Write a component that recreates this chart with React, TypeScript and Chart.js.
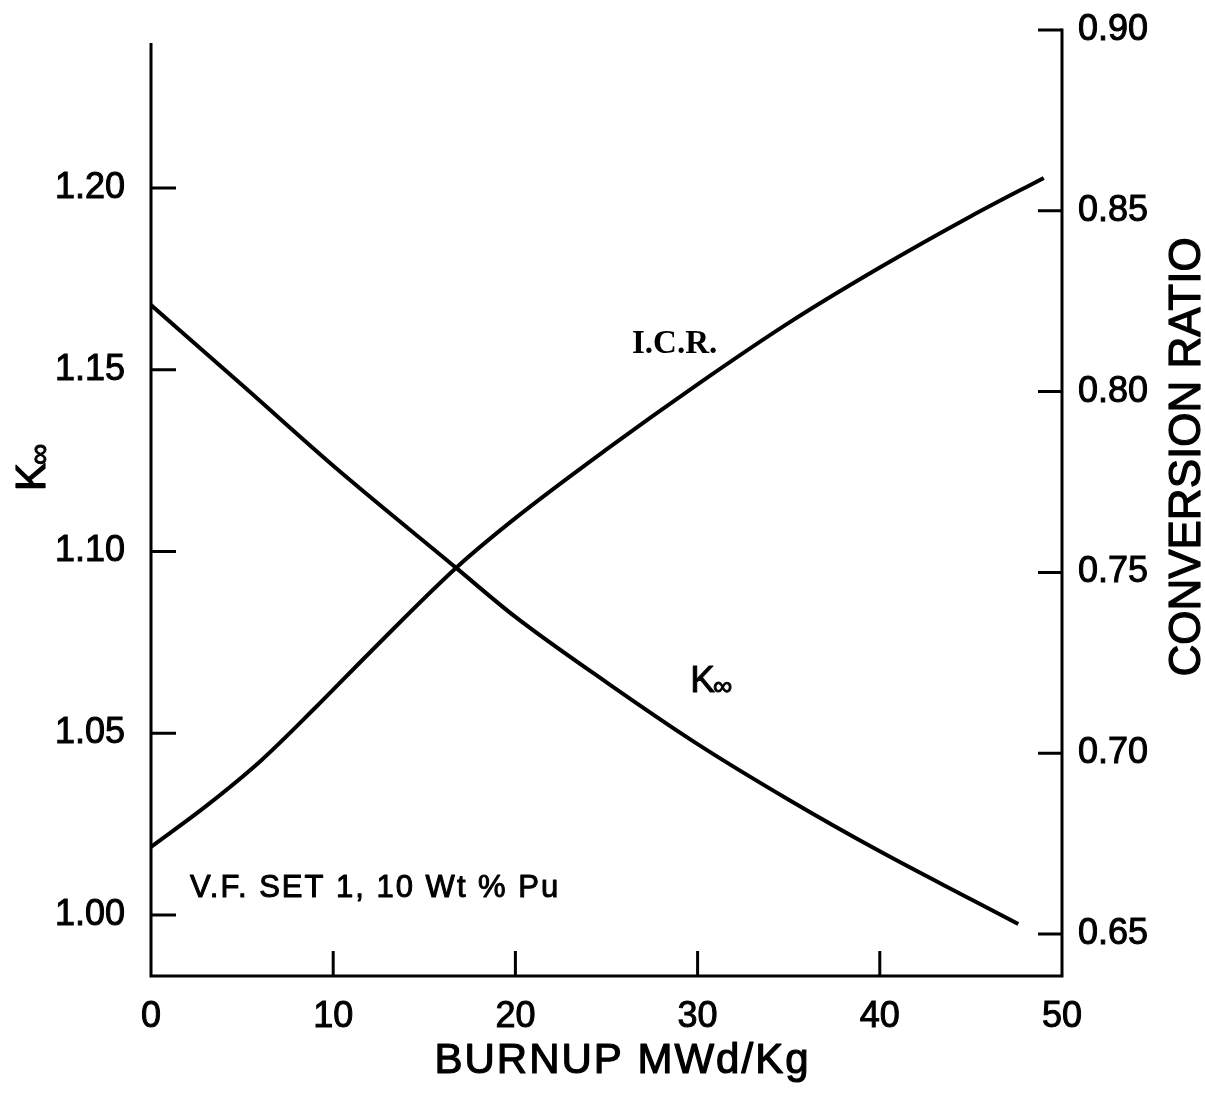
import { useEffect, useRef } from "react";
import { Chart, registerables } from "chart.js";

Chart.register(...registerables);

// Burnup (MWd/Kg) sample points for each curve
const kBurnup = [0, 5, 10, 16.7, 20, 25, 30, 35, 40, 45, 47.6];
const kInfinity = [1.1678, 1.1458, 1.1236, 1.0957, 1.082, 1.064, 1.047, 1.0317, 1.0175, 1.0043, 0.9975];

const icrBurnup = [0, 3, 6, 9, 12, 16.8, 20, 25, 30, 35, 40, 45, 49];
const conversionRatio = [0.6741, 0.6853, 0.6978, 0.7125, 0.7278, 0.7515, 0.765, 0.784, 0.802, 0.819, 0.8343, 0.8485, 0.8591];

// Tick values
const burnupTicks = [0, 10, 20, 30, 40, 50];
const kTicks = [1.0, 1.05, 1.1, 1.15, 1.2];
const crTicks = [0.65, 0.7, 0.75, 0.8, 0.85, 0.9];

const SANS = "'Liberation Sans', Arial, sans-serif";
const SERIF = "'Liberation Serif', 'Times New Roman', serif";

// fill text with a thin outline so the lettering looks as heavy as drafted ink
function inkText(ctx: CanvasRenderingContext2D, text: string, x: number, y: number, w = 1) {
  ctx.fillText(text, x, y);
  ctx.lineWidth = w;
  ctx.strokeText(text, x, y);
}

const framePlugin = {
  id: "frameAndLabels",
  afterDraw(chart: any) {
    const { ctx, chartArea } = chart;
    const { left, right, top, bottom } = chartArea;
    const xs = chart.scales.x;
    const ys = chart.scales.y;
    const yr = chart.scales.y1;

    ctx.save();
    ctx.strokeStyle = "#000";
    ctx.fillStyle = "#000";
    ctx.lineWidth = 3;
    ctx.lineCap = "butt";
    ctx.lineJoin = "round";

    // axis frame: left axis starts a little below the right one
    ctx.beginPath();
    ctx.moveTo(left, top + 13);
    ctx.lineTo(left, bottom + 1.5);
    ctx.moveTo(left - 1.5, bottom);
    ctx.lineTo(right + 1.5, bottom);
    ctx.moveTo(right, bottom + 1.5);
    ctx.lineTo(right, top - 1.5);
    ctx.stroke();

    // inward tick marks
    ctx.beginPath();
    kTicks.forEach((v) => {
      const y = ys.getPixelForValue(v);
      ctx.moveTo(left, y);
      ctx.lineTo(left + 25, y);
    });
    crTicks.forEach((v) => {
      const y = yr.getPixelForValue(v);
      ctx.moveTo(right - 24, y);
      ctx.lineTo(right, y);
    });
    burnupTicks.slice(1, -1).forEach((v) => {
      const x = xs.getPixelForValue(v);
      ctx.moveTo(x, bottom);
      ctx.lineTo(x, bottom - 25);
    });
    ctx.stroke();

    // x axis title
    ctx.textBaseline = "alphabetic";
    ctx.textAlign = "center";
    ctx.font = `42px ${SANS}`;
    (ctx as any).letterSpacing = "2px";
    inkText(ctx, "BURNUP MWd/Kg", (left + right) / 2 + 16, bottom + 97, 1.2);
    (ctx as any).letterSpacing = "0px";

    // right axis title, reading upward
    ctx.save();
    ctx.translate(right + 138, (top + bottom) / 2 - 46);
    ctx.rotate(-Math.PI / 2);
    ctx.font = `44px ${SANS}`;
    ctx.textAlign = "center";
    inkText(ctx, "CONVERSION RATIO", 0, 0, 1.2);
    ctx.restore();

    // left axis title K∞, reading upward
    ctx.save();
    ctx.translate(left - 106, (top + bottom) / 2 - 32);
    ctx.rotate(-Math.PI / 2);
    ctx.textAlign = "left";
    ctx.font = `42px ${SANS}`;
    const kw = ctx.measureText("K").width;
    inkText(ctx, "K", -20, 0, 1.2);
    ctx.font = `30px ${SANS}`;
    inkText(ctx, "\u221E", -22 + kw, 4, 1);
    ctx.restore();

    // curve labels
    ctx.textAlign = "left";
    ctx.font = `bold 33px ${SERIF}`;
    ctx.fillText("I.C.R.", xs.getPixelForValue(26.4), yr.getPixelForValue(0.8107));

    ctx.font = `37px ${SANS}`;
    const kx = xs.getPixelForValue(29.6);
    const ky = ys.getPixelForValue(1.0613);
    inkText(ctx, "K", kx, ky, 1);
    const kw2 = ctx.measureText("K").width;
    ctx.font = `27px ${SANS}`;
    inkText(ctx, "\u221E", kx + kw2 - 2, ky + 3, 1);

    ctx.font = `31px ${SANS}`;
    (ctx as any).letterSpacing = "2px";
    inkText(ctx, "V.F. SET 1, 10 Wt % Pu", xs.getPixelForValue(2.14), ys.getPixelForValue(1.005), 1);
    (ctx as any).letterSpacing = "0px";

    ctx.restore();
  },
};

export default function App() {
  const canvasRef = useRef<HTMLCanvasElement | null>(null);

  useEffect(() => {
    document.body.style.margin = "0";
    const canvas = canvasRef.current;
    if (!canvas) return;

    const tickFont = { family: SANS, size: 36 };

    const chart = new Chart(canvas, {
      type: "line",
      data: {
        datasets: [
          {
            label: "K\u221E",
            data: kBurnup.map((x, i) => ({ x, y: kInfinity[i] })),
            yAxisID: "y",
            borderColor: "#000",
            borderWidth: 4,
            pointRadius: 0,
            fill: false,
            cubicInterpolationMode: "monotone",
          },
          {
            label: "I.C.R.",
            data: icrBurnup.map((x, i) => ({ x, y: conversionRatio[i] })),
            yAxisID: "y1",
            borderColor: "#000",
            borderWidth: 4,
            pointRadius: 0,
            fill: false,
            cubicInterpolationMode: "monotone",
          },
        ],
      },
      options: {
        responsive: false,
        animation: false,
        devicePixelRatio: 1,
        layout: { padding: { top: 30, left: 0, right: 0, bottom: 0 } },
        plugins: {
          legend: { display: false },
          tooltip: { enabled: false },
        },
        scales: {
          x: {
            type: "linear",
            position: "bottom",
            min: 0,
            max: 50,
            grid: { display: false, drawTicks: false },
            border: { display: false },
            afterBuildTicks: (s: any) => {
              s.ticks = burnupTicks.map((value) => ({ value }));
            },
            afterFit: (s: any) => {
              s.height = 127;
              s.paddingLeft = 0;
              s.paddingRight = 0;
            },
            ticks: {
              color: "#000",
              font: tickFont,
              padding: 19,
              maxRotation: 0,
              autoSkip: false,
              textStrokeColor: "#000",
              textStrokeWidth: 1,
              callback: (v: any) => String(v),
            },
          },
          y: {
            type: "linear",
            position: "left",
            min: 0.9832,
            max: 1.2435,
            grid: { display: false, drawTicks: false },
            border: { display: false },
            afterBuildTicks: (s: any) => {
              s.ticks = kTicks.map((value) => ({ value }));
            },
            afterFit: (s: any) => {
              s.width = 151;
              s.paddingTop = 0;
              s.paddingBottom = 0;
            },
            ticks: {
              color: "#000",
              font: tickFont,
              padding: 26,
              autoSkip: false,
              textStrokeColor: "#000",
              textStrokeWidth: 1,
              callback: (v: any) => Number(v).toFixed(2),
            },
          },
          y1: {
            type: "linear",
            position: "right",
            min: 0.6384,
            max: 0.9,
            grid: { display: false, drawTicks: false },
            border: { display: false },
            afterBuildTicks: (s: any) => {
              s.ticks = crTicks.map((value) => ({ value }));
            },
            afterFit: (s: any) => {
              s.width = 143;
              s.paddingTop = 0;
              s.paddingBottom = 0;
            },
            ticks: {
              color: "#000",
              font: tickFont,
              padding: 16,
              autoSkip: false,
              textStrokeColor: "#000",
              textStrokeWidth: 1,
              callback: (v: any) => Number(v).toFixed(2),
            },
          },
        },
      },
      plugins: [framePlugin],
    } as any);

    return () => chart.destroy();
  }, []);

  return (
    <div style={{ width: 1205, height: 1103, background: "#fff" }}>
      <canvas ref={canvasRef} width={1205} height={1103} style={{ display: "block" }} />
    </div>
  );
}
